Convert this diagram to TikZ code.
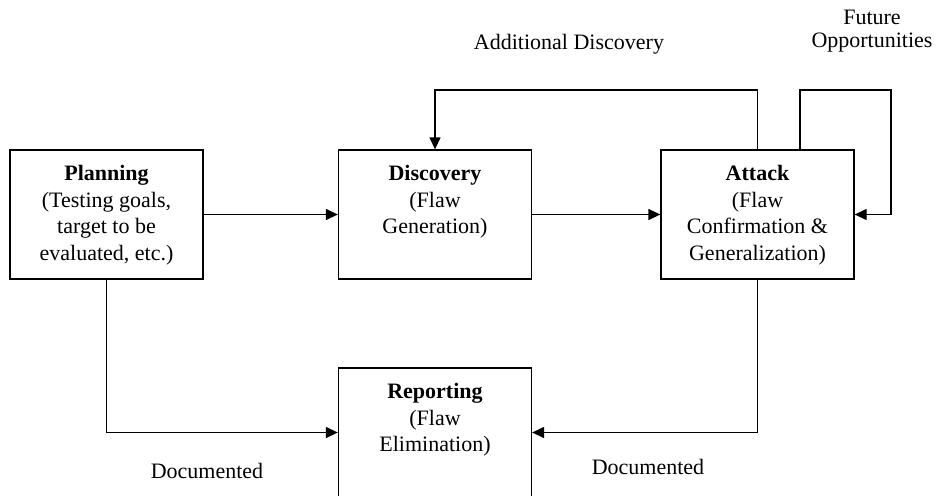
\documentclass[tikz,border=0pt]{standalone}
\usepackage{fontspec}
\setmainfont{Liberation Serif}
\usetikzlibrary{arrows.meta,calc}
\begin{document}
\begin{tikzpicture}[x=1pt,y=-1pt,
  boxnode/.style={draw,line width=1.3pt,minimum width=193pt,minimum height=129pt,inner sep=0pt},
  boxtext/.style={anchor=north,align=center,inner sep=0pt,font=\fontsize{22}{26.5}\selectfont},
  lbl/.style={anchor=base,align=center,inner sep=0pt,font=\fontsize{22}{23}\selectfont},
  conn/.style={line width=1.3pt,-{Triangle[length=12pt,width=11pt]}}]
\useasboundingbox (0,0) rectangle (936,495);
\node[boxnode] (plan) at (106.5,214.5) {};
\node[boxnode] (disc) at (435,214.5) {};
\node[boxnode] (att) at (757.5,214.5) {};
\node[boxnode] (rep) at (435,432.5) {};
\node[boxtext] (plant) at ($(plan.north)+(0,16)$) {\textbf{Planning}\\(Testing goals,\\target to be\\evaluated, etc.)};
\node[boxtext] (disct) at ($(disc.north)+(0,16)$) {\textbf{Discovery}\\(Flaw\\Generation)};
\node[boxtext] (attt) at ($(att.north)+(0,16)$) {\textbf{Attack}\\(Flaw\\Confirmation \&\\Generalization)};
\node[boxtext] (rept) at ($(rep.north)+(0,16)$) {\textbf{Reporting}\\(Flaw\\Elimination)};
\coordinate (topy) at (0,90);
\coordinate (ftop) at ($(att.north)+(42.5,0)$);
\coordinate (fr) at (891,90);
\draw[conn] (plan.east) -- (disc.west);
\draw[conn] (disc.east) -- (att.west);
\draw[conn] (att.north) -- (att.north |- topy) -| (disc.north);
\draw[conn] (ftop) |- (fr) |- (att.east);
\draw[conn] (plan.south) |- (rep.west);
\draw[conn] (att.south) |- (rep.east);
\node[lbl] (adl) at (569,49) {Additional Discovery};
\node[lbl] (ful) at (872,48) {Future\\Opportunities};
\node[lbl] (doc1) at (207,478) {Documented};
\node[lbl] (doc2) at (648,474) {Documented};
\end{tikzpicture}
\end{document}
